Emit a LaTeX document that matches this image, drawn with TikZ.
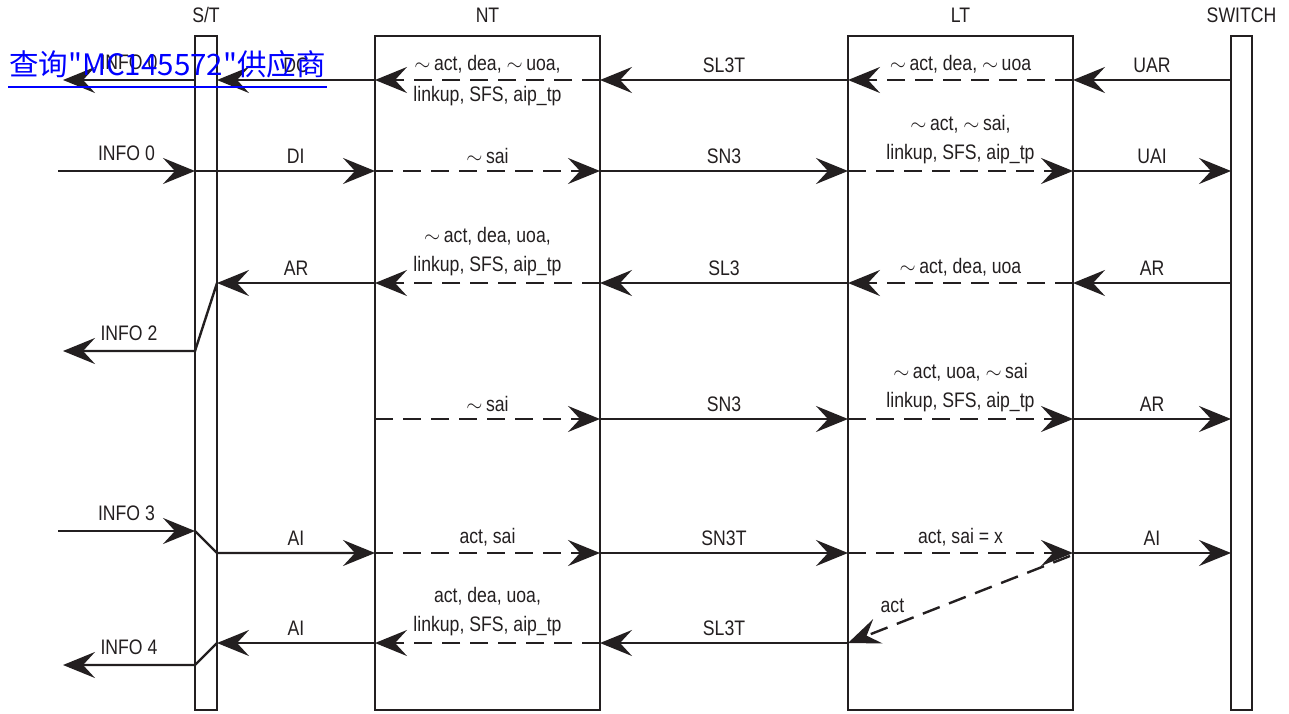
\documentclass[tikz,border=0pt]{standalone}
\usepackage{fontspec}
\setmainfont{Liberation Sans}[FakeStretch=0.84]
\newfontfamily\cjkfont{Noto Sans CJK SC}
\usetikzlibrary{arrows.meta,positioning}
\definecolor{inkgray}{RGB}{35,31,32}
\definecolor{linkblue}{RGB}{0,0,255}
\newcommand{\nsig}{$\sim$\,}

\begin{document}
\begin{tikzpicture}[x=1pt,y=-1pt, line width=2.4pt, inkgray,
    every node/.style={font=\fontsize{21}{29}\selectfont, text=inkgray},
    unit/.style={draw, inner sep=0pt, outer sep=0pt, minimum height=674pt},
    head/.style={inner sep=0pt},
    sig/.style={-{Stealth[length=32pt,width=26pt,inset=12pt]}},
    dsig/.style={sig, dash pattern=on 18pt off 10pt},
    lbl/.style={above=5pt, inner sep=1pt, align=center},
    lblb/.style={below=4pt, inner sep=1pt},
    info/.style={above=8pt, inner sep=1pt}]
  \useasboundingbox (0,0) rectangle (1289,714);

  % units
  \node[unit, minimum width=22pt] (st) at (206,373) {};
  \node[unit, minimum width=225pt] (nt) at (487.5,373) {};
  \node[unit, minimum width=225pt] (lt) at (960.5,373) {};
  \node[unit, minimum width=21pt] (sw) at (1241.5,373) {};
  \node[head, above=12pt of st] (st-name) {S/T};
  \node[head, above=12pt of nt] (nt-name) {NT};
  \node[head, above=12pt of lt] (lt-name) {LT};
  \node[head, above=12pt of sw] (sw-name) {SWITCH};

  % rows
  \coordinate (r1) at (0,80);
  \coordinate (r2) at (0,171);
  \coordinate (r3) at (0,283);
  \coordinate (r3b) at (0,351);
  \coordinate (r4) at (0,419);
  \coordinate (r5a) at (0,531);
  \coordinate (r5) at (0,553);
  \coordinate (r6) at (0,643);
  \coordinate (r6b) at (0,665);
  \coordinate (o1) at (63,80);
  \coordinate (i2) at (58,171);
  \coordinate (o3) at (63,351);
  \coordinate (i5) at (58,531);
  \coordinate (o6) at (63,665);
  \coordinate (ltx) at (1070,556);

  % deactivation
  \draw[sig] (sw.west |- r1) -- node[lbl]{UAR} (lt.east |- r1);
  \draw[dsig] (lt.east |- r1) -- node[lbl]{\nsig act, dea, \nsig uoa} (lt.west |- r1);
  \draw[sig] (lt.west |- r1) -- node[lbl]{SL3T} (nt.east |- r1);
  \draw[dsig] (nt.east |- r1) -- node[lbl]{\nsig act, dea, \nsig uoa,}
    node[lblb]{linkup, SFS, aip\_tp} (nt.west |- r1);
  \draw[sig] (nt.west |- r1) -- node[lbl]{DC} (st.east |- r1);
  \draw[sig] (st.west |- r1) -- node[info]{INFO 0} (o1);

  % activation request
  \draw[sig] (i2) -- node[info]{INFO 0} (st.west |- r2);
  \draw[sig] (st.west |- r2) -- node[lbl, pos=0.56]{DI} (nt.west |- r2);
  \draw[dsig] (nt.west |- r2) -- node[lbl]{\nsig sai} (nt.east |- r2);
  \draw[sig] (nt.east |- r2) -- node[lbl]{SN3} (lt.west |- r2);
  \draw[dsig] (lt.west |- r2) -- node[lbl]{\nsig act, \nsig sai,\\linkup, SFS, aip\_tp} (lt.east |- r2);
  \draw[sig] (lt.east |- r2) -- node[lbl]{UAI} (sw.west |- r2);

  \draw[sig] (sw.west |- r3) -- node[lbl]{AR} (lt.east |- r3);
  \draw[dsig] (lt.east |- r3) -- node[lbl]{\nsig act, dea, uoa} (lt.west |- r3);
  \draw[sig] (lt.west |- r3) -- node[lbl]{SL3} (nt.east |- r3);
  \draw[dsig] (nt.east |- r3) -- node[lbl]{\nsig act, dea, uoa,\\linkup, SFS, aip\_tp} (nt.west |- r3);
  \draw[sig] (nt.west |- r3) -- node[lbl]{AR} (st.east |- r3);
  \draw[sig] (st.east |- r3) -- (st.west |- r3b) -- node[info]{INFO 2} (o3);

  \draw[dsig] (nt.west |- r4) -- node[lbl]{\nsig sai} (nt.east |- r4);
  \draw[sig] (nt.east |- r4) -- node[lbl]{SN3} (lt.west |- r4);
  \draw[dsig] (lt.west |- r4) -- node[lbl]{\nsig act, uoa, \nsig sai\\linkup, SFS, aip\_tp} (lt.east |- r4);
  \draw[sig] (lt.east |- r4) -- node[lbl]{AR} (sw.west |- r4);

  % activation
  \draw[sig] (i5) -- node[info]{INFO 3} (st.west |- r5a);
  \draw[sig] (st.west |- r5a) -- (st.east |- r5) -- node[lbl]{AI} (nt.west |- r5);
  \draw[dsig] (nt.west |- r5) -- node[lbl]{act, sai} (nt.east |- r5);
  \draw[sig] (nt.east |- r5) -- node[lbl]{SN3T} (lt.west |- r5);
  \draw[dsig] (lt.west |- r5) -- node[lbl]{act, sai = x} (lt.east |- r5);
  \draw[sig] (lt.east |- r5) -- node[lbl]{AI} (sw.west |- r5);
  \draw[dsig] (ltx) -- node[pos=0.8, above=8pt]{act} (lt.west |- r6);

  \draw[sig] (lt.west |- r6) -- node[lbl]{SL3T} (nt.east |- r6);
  \draw[dsig] (nt.east |- r6) -- node[lbl]{act, dea, uoa,\\linkup, SFS, aip\_tp} (nt.west |- r6);
  \draw[sig] (nt.west |- r6) -- node[lbl]{AI} (st.east |- r6);
  \draw[sig] (st.east |- r6) -- (st.west |- r6b) -- node[info]{INFO 4} (o6);

  % link overlay
  \node[anchor=base west, inner sep=0pt, text=linkblue,
        font=\cjkfont\fontsize{29.5}{32}\selectfont] (link) at (8,76) {查询"MC145572"供应商};
  \draw[linkblue, line width=2pt] ([yshift=-11pt]link.base west) -- ([yshift=-11pt]link.base east);
\end{tikzpicture}
\end{document}
